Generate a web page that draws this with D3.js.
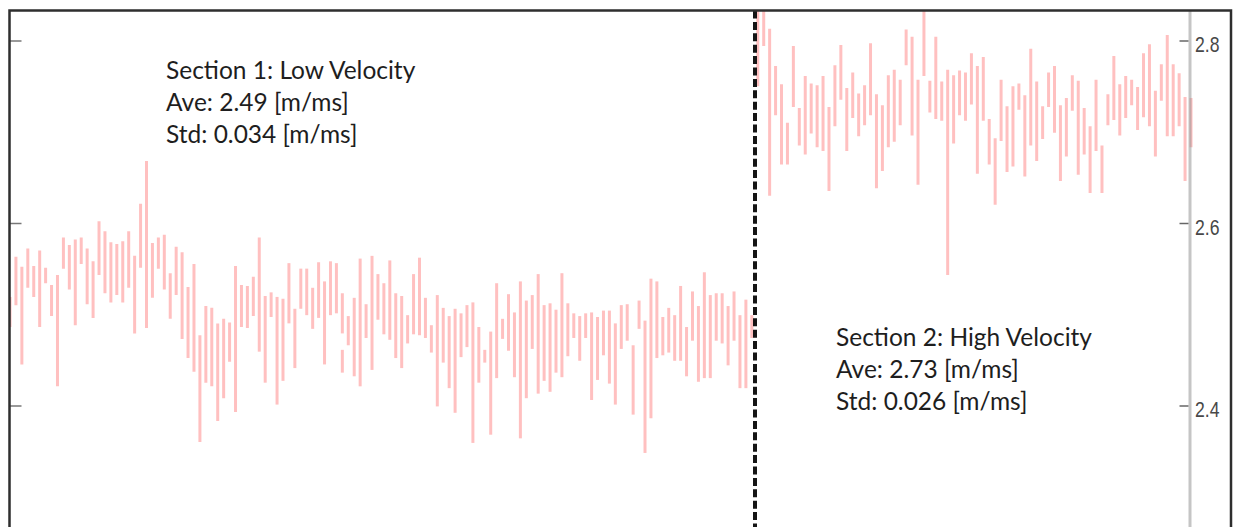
<!DOCTYPE html>
<html>
<head>
<meta charset="utf-8">
<script src="https://cdnjs.cloudflare.com/ajax/libs/d3/7.8.5/d3.min.js"></script>
<style>
  body { margin: 0; background: #fff; }
  svg { display: block; }
  .note { font-family: Lato, "Open Sans", sans-serif; font-size: 24.5px; fill: #1e1e1e; }
</style>
</head>
<body>
<div id="chart"></div>
<script>
// velocity range per pulse, section 1 (low velocity)
const section1High = [2.519, 2.563, 2.552, 2.572, 2.553, 2.570, 2.551, 2.532, 2.543, 2.584,
  2.576, 2.582, 2.584, 2.572, 2.558, 2.602, 2.591, 2.579, 2.577, 2.580,
  2.591, 2.564, 2.621, 2.668, 2.578, 2.584, 2.587, 2.545, 2.574, 2.568,
  2.530, 2.555, 2.477, 2.509, 2.507, 2.490, 2.495, 2.491, 2.553, 2.532,
  2.531, 2.541, 2.584, 2.520, 2.524, 2.519, 2.517, 2.556, 2.506, 2.550,
  2.550, 2.529, 2.557, 2.536, 2.558, 2.556, 2.523, 2.498, 2.518, 2.561,
  2.511, 2.564, 2.544, 2.534, 2.559, 2.523, 2.520, 2.499, 2.544, 2.562,
  2.518, 2.488, 2.521, 2.507, 2.498, 2.506, 2.501, 2.510, 2.513, 2.486,
  2.461, 2.481, 2.534, 2.495, 2.522, 2.502, 2.536, 2.515, 2.521, 2.544,
  2.510, 2.512, 2.505, 2.545, 2.512, 2.501, 2.498, 2.501, 2.502, 2.497,
  2.504, 2.504, 2.490, 2.510, 2.511, 2.466, 2.515, 2.493, 2.539, 2.536,
  2.497, 2.507, 2.499, 2.531, 2.486, 2.525, 2.509, 2.546, 2.521, 2.523,
  2.523, 2.509, 2.525, 2.499, 2.516, 2.499];
const section1Low = [2.486, 2.510, 2.445, 2.529, 2.519, 2.486, 2.534, 2.498, 2.421, 2.550,
  2.527, 2.488, 2.555, 2.511, 2.496, 2.543, 2.523, 2.513, 2.521, 2.513,
  2.529, 2.479, 2.551, 2.485, 2.518, 2.550, 2.527, 2.495, 2.521, 2.473,
  2.452, 2.437, 2.360, 2.425, 2.421, 2.383, 2.408, 2.448, 2.393, 2.486,
  2.485, 2.498, 2.459, 2.425, 2.497, 2.401, 2.427, 2.490, 2.441, 2.506,
  2.499, 2.484, 2.496, 2.445, 2.499, 2.501, 2.479, 2.466, 2.432, 2.421,
  2.474, 2.439, 2.494, 2.478, 2.472, 2.452, 2.441, 2.468, 2.478, 2.477,
  2.474, 2.458, 2.399, 2.447, 2.419, 2.392, 2.453, 2.464, 2.359, 2.425,
  2.447, 2.368, 2.430, 2.473, 2.460, 2.431, 2.364, 2.408, 2.462, 2.413,
  2.427, 2.415, 2.436, 2.431, 2.454, 2.474, 2.449, 2.474, 2.406, 2.428,
  2.455, 2.424, 2.401, 2.462, 2.471, 2.390, 2.484, 2.348, 2.386, 2.452,
  2.455, 2.458, 2.449, 2.449, 2.432, 2.471, 2.426, 2.430, 2.430, 2.471,
  2.468, 2.444, 2.471, 2.419, 2.419, 2.474];

// section 2 (high velocity)
const section2High = [2.840, 2.850, 2.813, 2.772, 2.752, 2.710, 2.794, 2.726, 2.761, 2.753,
  2.751, 2.761, 2.727, 2.773, 2.795, 2.748, 2.765, 2.742, 2.751, 2.797,
  2.741, 2.729, 2.762, 2.768, 2.757, 2.812, 2.804, 2.757, 2.840, 2.756,
  2.804, 2.755, 2.768, 2.762, 2.767, 2.765, 2.786, 2.772, 2.782, 2.714,
  2.693, 2.757, 2.728, 2.750, 2.753, 2.740, 2.791, 2.755, 2.728, 2.765,
  2.772, 2.729, 2.737, 2.762, 2.756, 2.726, 2.706, 2.757, 2.685, 2.741,
  2.783, 2.752, 2.761, 2.757, 2.749, 2.786, 2.796, 2.745, 2.774, 2.806,
  2.774, 2.764, 2.738, 2.737];
const section2Low = [2.750, 2.794, 2.630, 2.718, 2.664, 2.664, 2.727, 2.685, 2.675, 2.698,
  2.683, 2.679, 2.635, 2.706, 2.735, 2.679, 2.715, 2.695, 2.707, 2.718,
  2.638, 2.657, 2.683, 2.689, 2.707, 2.773, 2.696, 2.642, 2.761, 2.721,
  2.714, 2.712, 2.543, 2.687, 2.718, 2.712, 2.730, 2.654, 2.712, 2.664,
  2.620, 2.690, 2.656, 2.662, 2.724, 2.651, 2.685, 2.668, 2.692, 2.727,
  2.699, 2.646, 2.673, 2.723, 2.653, 2.675, 2.633, 2.679, 2.633, 2.707,
  2.713, 2.696, 2.715, 2.729, 2.702, 2.716, 2.706, 2.673, 2.734, 2.695,
  2.695, 2.706, 2.646, 2.683];

// one bar in section 1 has a second short piece under it
const extraIndex = [56];
const extraHigh = [2.461];
const extraLow = [2.436];

const yTicks = [2.4, 2.6, 2.8];
const sectionSplit = 125.6;   // dashed line, in pulse index units
const notes1 = ["Section 1: Low Velocity", "Ave: 2.49 [m/ms]", "Std: 0.034 [m/ms]"];
const notes2 = ["Section 2: High Velocity", "Ave: 2.73 [m/ms]", "Std: 0.026 [m/ms]"];

const W = 1236, H = 527;
const frame = {left: 9.5, top: 10.5, right: 1231};
const axisX = 1190;

const svg = d3.select("#chart").append("svg")
  .attr("width", W)
  .attr("height", H);

const n1 = section1High.length;
let bars = [];
section1High.forEach((h, i) => bars.push({i: i, hi: h, lo: section1Low[i]}));
section2High.forEach((h, i) => bars.push({i: n1 + i, hi: h, lo: section2Low[i]}));
extraIndex.forEach((idx, k) => bars.push({i: idx, hi: extraHigh[k], lo: extraLow[k]}));

const x = d3.scaleLinear()
  .domain([0, bars.length - extraIndex.length - 1])
  .range([10, 1191]);

const y = d3.scaleLinear()
  .domain([2.4, 2.8])
  .range([405.5, 40.5]);

svg.append("clipPath").attr("id", "plot")
  .append("rect")
  .attr("x", frame.left).attr("y", frame.top)
  .attr("width", frame.right - frame.left).attr("height", H);

svg.append("g")
  .attr("clip-path", "url(#plot)")
  .selectAll("line")
  .data(bars)
  .enter().append("line")
  .attr("x1", d => x(d.i))
  .attr("x2", d => x(d.i))
  .attr("y1", d => y(d.hi))
  .attr("y2", d => y(d.lo))
  .style("stroke", "#ffc0c0")
  .style("stroke-width", 3);

// section divider
const splitX = Math.round(x(sectionSplit));
svg.append("line")
  .attr("x1", splitX).attr("x2", splitX)
  .attr("y1", frame.top).attr("y2", H)
  .style("stroke", "#151515")
  .style("stroke-width", 4)
  .style("stroke-dasharray", "8,3.4");

// right hand axis
svg.append("line")
  .attr("x1", axisX).attr("x2", axisX)
  .attr("y1", frame.top).attr("y2", H)
  .style("stroke", "rgba(150,150,150,0.55)")
  .style("stroke-width", 3);

const rTicks = svg.append("g")
  .attr("transform", `translate(${axisX - 1.5},0)`)
  .call(d3.axisLeft(y).tickValues(yTicks).tickSize(9).tickFormat(""));
rTicks.select(".domain").remove();
rTicks.selectAll("line").style("stroke", "#666").style("stroke-width", 1.5);

const rLabels = svg.append("g")
  .attr("transform", `translate(${axisX + 5},0)`)
  .call(d3.axisRight(y).tickValues(yTicks).tickSize(0).tickPadding(0).tickFormat(d3.format(".1f")));
rLabels.select(".domain").remove();
rLabels.selectAll("text")
  .attr("dy", "0.52em")
  .attr("transform", "scale(0.8,1)")
  .style("font-family", "'Liberation Sans', Arial, sans-serif")
  .style("font-size", "22px")
  .style("fill", "#484848");

// left axis, ticks only
const lTicks = svg.append("g")
  .attr("transform", `translate(${frame.left},0)`)
  .call(d3.axisRight(y).tickValues(yTicks).tickSize(12).tickFormat(""));
lTicks.select(".domain").remove();
lTicks.selectAll("line").style("stroke", "#777").style("stroke-width", 1.5);

// frame
svg.append("path")
  .attr("d", `M${frame.left},${H + 5}V${frame.top}H${frame.right}V${H + 5}`)
  .style("fill", "none")
  .style("stroke", "#2e2e2e")
  .style("stroke-width", 2.5);

function addNote(lines, x0, y0) {
  svg.append("g").selectAll("text")
    .data(lines)
    .enter().append("text")
    .attr("class", "note")
    .attr("x", x0)
    .attr("y", (d, i) => y0 + i * 32)
    .text(d => d);
}
addNote(notes1, 166, 79);
addNote(notes2, 836, 346);
</script>
</body>
</html>
